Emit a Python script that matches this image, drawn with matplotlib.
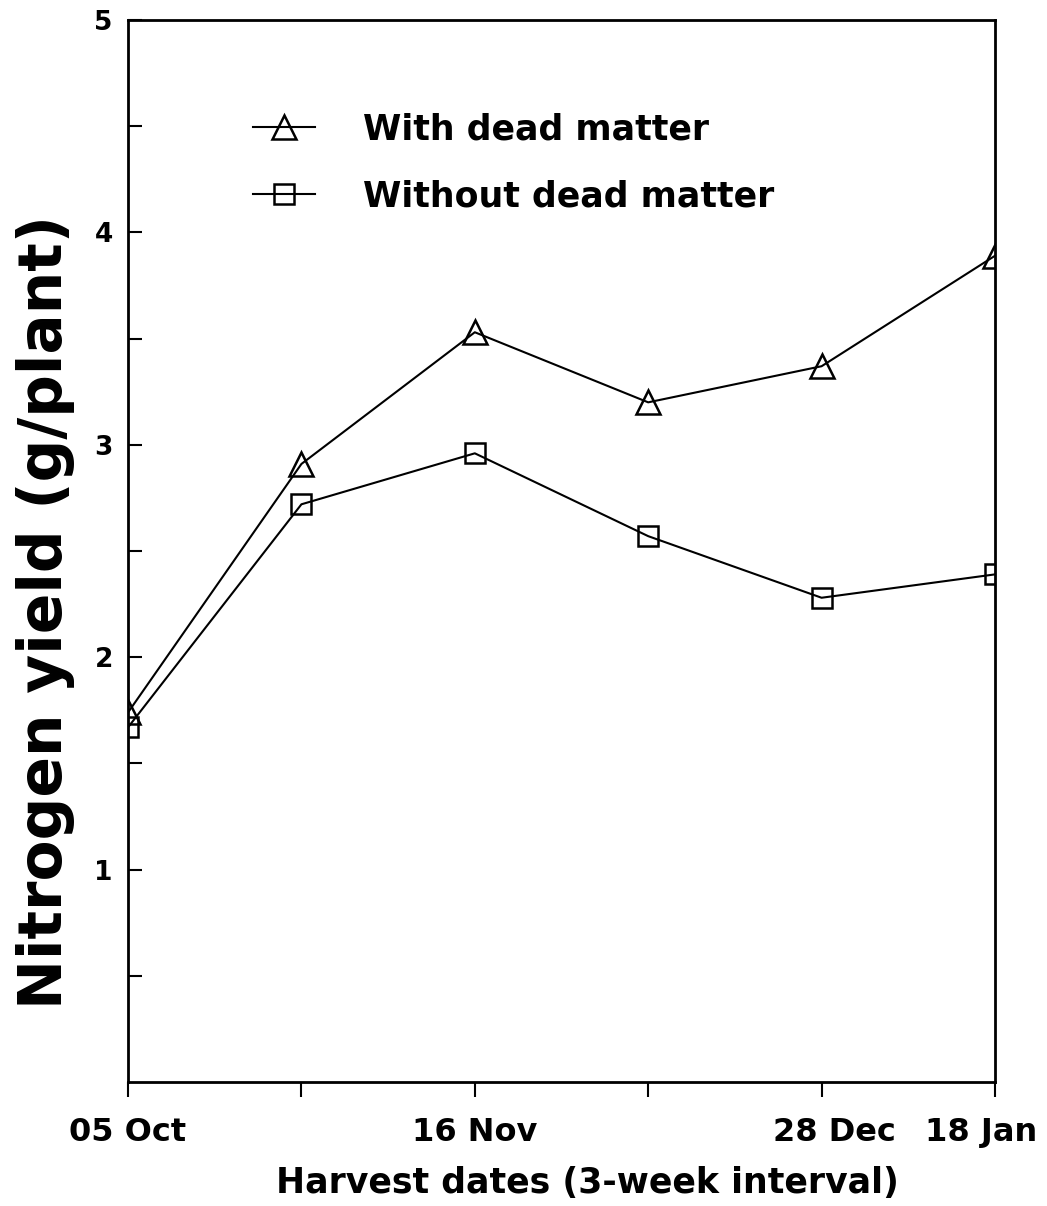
import matplotlib
matplotlib.use("Agg")
import matplotlib.pyplot as plt
from matplotlib.transforms import ScaledTranslation

# harvest dates, 3-week interval
harvest_idx = [0, 1, 2, 3, 4, 5]
harvest_labels = ["05 Oct", "", "16 Nov", "", "28 Dec", "18 Jan"]

# nitrogen yield (g/plant)
with_dead = [1.74, 2.91, 3.53, 3.20, 3.37, 3.89]
without_dead = [1.67, 2.72, 2.96, 2.57, 2.28, 2.39]

y_ticks = [0.5, 1, 1.5, 2, 2.5, 3, 3.5, 4, 4.5, 5]
y_ticklabels = ["", "1", "", "2", "", "3", "", "4", "", "5"]

plt.rcParams["font.family"] = ["DejaVu Sans"]
plt.rcParams["font.weight"] = "bold"

fig = plt.figure(figsize=(10.47, 12.06), dpi=100)
ax = fig.add_axes([0.1223, 0.1028, 0.828, 0.8806])

ax.plot(harvest_idx, with_dead, color="black", lw=1.5, marker="^", ms=17,
        mfc="none", mec="black", mew=1.8, label="With dead matter")
ax.plot(harvest_idx, without_dead, color="black", lw=1.5, marker="s", ms=15,
        mfc="none", mec="black", mew=1.8, label="Without dead matter")

ax.set_xlim(0, 5)
ax.set_ylim(0, 5)
ax.set_xticks(harvest_idx)
ax.set_xticklabels(harvest_labels, fontsize=23, fontweight="bold")
ax.set_yticks(y_ticks)
ax.set_yticklabels(y_ticklabels, fontsize=19, fontweight="bold")

ax.tick_params(axis="y", direction="in", length=10, width=1.5, pad=11)
ax.tick_params(axis="x", direction="out", length=11, width=1.5, pad=14)
for sp in ax.spines.values():
    sp.set_linewidth(2)

# the last two date labels are nudged apart in the original
xlabs = ax.get_xticklabels()
xlabs[4].set_transform(xlabs[4].get_transform() + ScaledTranslation(0.13, 0, fig.dpi_scale_trans))
xlabs[5].set_transform(xlabs[5].get_transform() + ScaledTranslation(-0.14, 0, fig.dpi_scale_trans))

ax.set_ylabel("Nitrogen yield (g/plant)", fontsize=43, fontweight="bold")
ax.yaxis.set_label_coords(-0.061, 0.443)
ax.set_xlabel("Harvest dates (3-week interval)", fontsize=25, fontweight="bold")
ax.xaxis.set_label_coords(0.53, -0.079)

leg = ax.legend(loc="upper left", bbox_to_anchor=(0.144, 0.913), frameon=False,
                fontsize=25, handlelength=1.79, handletextpad=1.38,
                labelspacing=0.95, borderpad=0, borderaxespad=0)
for t in leg.get_texts():
    t.set_fontweight("bold")

fig.savefig("out.png", dpi=100)
